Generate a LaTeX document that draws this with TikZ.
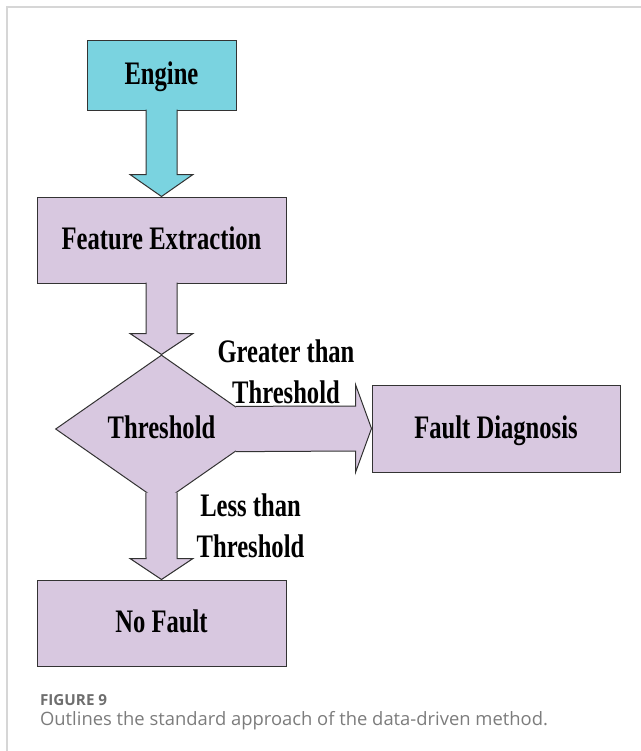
\documentclass[tikz,border=0pt]{standalone}
\usepackage{fontspec}
\usetikzlibrary{shapes,arrows,positioning,calc}
\newfontfamily\boxfont{Liberation Serif}[FakeStretch=0.75]
\newfontfamily\capfont{Open Sans}
\definecolor{EngineCyan}{RGB}{122, 211, 224}
\definecolor{BoxLilac}{RGB}{216, 200, 224}
\definecolor{FrameGray}{RGB}{214, 214, 214}
\definecolor{CaptionGray}{RGB}{110, 110, 110}

\begin{document}
\begin{tikzpicture}[x=0.5pt, y=-0.5pt,
  box/.style={draw=black!80, line width=0.5pt, fill=BoxLilac, inner sep=0pt,
    minimum width=124.5pt, minimum height=43pt, text height=12pt, text depth=2.2pt,
    font=\boxfont\bfseries\fontsize{16.4}{20.5}\selectfont},
  lbl/.style={align=center, inner sep=0pt, font=\boxfont\bfseries\fontsize{16.4}{20.5}\selectfont},
  blockarrow/.style={fill=#1, draw=black!80, line width=0.5pt, line join=miter}]
\useasboundingbox (0,0) rectangle (641,751);

% Frame
\draw[FrameGray, line width=0.75pt] (7,751) -- (7,7) -- (641,7);

% Boxes
\node[box, fill=EngineCyan, minimum width=74.5pt, minimum height=35pt] (engine) at (161.5,75) {Engine};
\node[box] (feature) at (161.5,240) {Feature Extraction};
\node[box, diamond, minimum width=106pt, minimum height=74pt] (thresh) at (161.5,429) {Threshold};
\node[box, minimum width=124pt, minimum height=43.5pt] (fault) at (496,428.5) {Fault Diagnosis};
\node[box] (nofault) at (161.5,623) {No Fault};

% Block arrows
\draw[blockarrow=EngineCyan] ($(engine.south)+(-15.5,-1)$) -- ($(feature.north)+(-15.5,-22)$)
  -- ($(feature.north)+(-31.5,-22)$) -- (feature.north) -- ($(feature.north)+(31.5,-22)$)
  -- ($(feature.north)+(15.5,-22)$) -- ($(engine.south)+(15.5,-1)$);
\draw[blockarrow=BoxLilac] ($(feature.south)+(-15.5,-1)$) -- ($(thresh.north)+(-15.5,-21)$)
  -- ($(thresh.north)+(-31.5,-21)$) -- (thresh.north) -- ($(thresh.north)+(31.5,-21)$)
  -- ($(thresh.north)+(15.5,-21)$) -- ($(feature.south)+(15.5,-1)$);
\draw[blockarrow=BoxLilac] ($(thresh.east)!0.304!(thresh.north)$) -- ($(fault.west)+(-16,-22.5)$)
  -- ($(fault.north west)+(-16,0)$) -- (fault.west) -- ($(fault.south west)+(-16,0)$)
  -- ($(fault.west)+(-16,22.5)$) -- ($(thresh.east)!0.304!(thresh.south)$);
\draw[blockarrow=BoxLilac] ($(thresh.south)!0.146!(thresh.west)$) -- ($(nofault.north)+(-15.5,-21)$)
  -- ($(nofault.north)+(-31.5,-21)$) -- (nofault.north) -- ($(nofault.north)+(31.5,-21)$)
  -- ($(nofault.north)+(15.5,-21)$) -- ($(thresh.south)!0.146!(thresh.east)$);

% Branch labels
\node[lbl] (greater) at (286,372) {Greater than\\Threshold};
\node[lbl] (less) at (250.5,526) {Less than\\Threshold};

% Caption
\node[anchor=base west, inner sep=0pt, text=CaptionGray, font=\capfont\bfseries\fontsize{7.6}{9}\selectfont] (fignum) at (39.7,705.7) {FIGURE 9};
\node[anchor=base west, inner sep=0pt, text=CaptionGray!90, font=\capfont\fontsize{9.2}{11}\selectfont] (caption) at (39.7,725.7) {Outlines the standard approach of the data-driven method.};
\end{tikzpicture}
\end{document}
